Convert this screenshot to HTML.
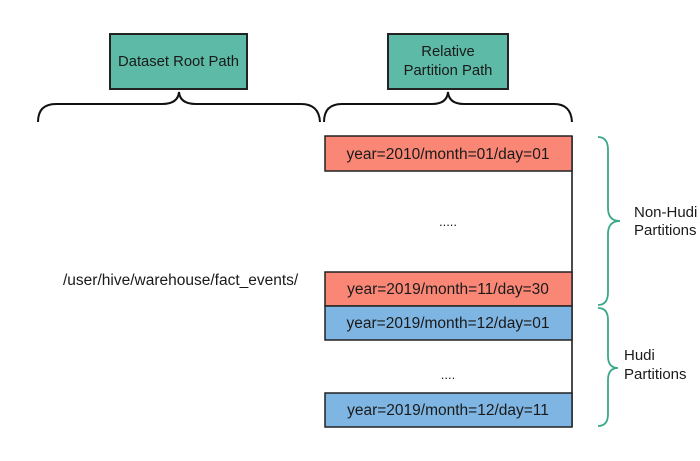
<!DOCTYPE html>
<html><head><meta charset="utf-8"><style>
html,body{margin:0;padding:0;background:#fff;width:700px;height:461px;overflow:hidden}
text{font-family:"Liberation Sans",sans-serif;fill:#1a1a1a}
</style></head><body>
<svg width="700" height="461" xmlns="http://www.w3.org/2000/svg">
<rect x="110" y="34" width="137" height="55" fill="#5cbaa6" stroke="#222" stroke-width="2"/>
<text x="178.5" y="66" font-size="14.8" text-anchor="middle">Dataset Root Path</text>
<rect x="388" y="34" width="120" height="55" fill="#5cbaa6" stroke="#222" stroke-width="2"/>
<text x="448" y="56" font-size="14.8" text-anchor="middle">Relative</text>
<text x="448" y="75" font-size="14.8" text-anchor="middle">Partition Path</text>
<path d="M38 122 Q38 104 56 104 L162 104 Q178 104 179 92 Q180 104 196 104 L301 104 Q319 104 320 122" fill="none" stroke="#111" stroke-width="2"/>
<path d="M324 122 Q324 104 342 104 L432 104 Q447 104 448 92 Q449 104 464 104 L554 104 Q571 104 572 122" fill="none" stroke="#111" stroke-width="2"/>
<line x1="572" y1="136" x2="572" y2="427" stroke="#111" stroke-width="1.5"/>
<rect x="325" y="136" width="247" height="35" fill="#fa8776" stroke="#222" stroke-width="1.5"/>
<text x="448" y="159" font-size="15.5" text-anchor="middle">year=2010/month=01/day=01</text>
<text x="448" y="226" font-size="13" text-anchor="middle">.....</text>
<rect x="325" y="272" width="247" height="34" fill="#fa8776" stroke="#222" stroke-width="1.5"/>
<text x="448" y="294" font-size="15.5" text-anchor="middle">year=2019/month=11/day=30</text>
<rect x="325" y="306" width="247" height="34" fill="#7fb5e2" stroke="#222" stroke-width="1.5"/>
<text x="448" y="328" font-size="15.5" text-anchor="middle">year=2019/month=12/day=01</text>
<text x="448" y="379" font-size="13" text-anchor="middle">....</text>
<rect x="325" y="393" width="247" height="34" fill="#7fb5e2" stroke="#222" stroke-width="1.5"/>
<text x="448" y="415" font-size="15.5" text-anchor="middle">year=2019/month=12/day=11</text>
<path d="M598 137 Q608 137 608 150 L608 208 Q608 221 620 221 Q608 221 608 234 L608 292 Q608 305 598 305" fill="none" stroke="#3aa88a" stroke-width="1.8"/>
<path d="M598 308 Q608 308 608 320 L608 356 Q608 368 618 368 Q608 368 608 380 L608 414 Q608 426 598 426" fill="none" stroke="#3aa88a" stroke-width="1.8"/>
<text x="634" y="217" font-size="15">Non-Hudi</text>
<text x="634" y="235" font-size="15">Partitions</text>
<text x="624" y="360" font-size="15">Hudi</text>
<text x="624" y="379" font-size="15">Partitions</text>
<text x="63" y="285" font-size="15.5">/user/hive/warehouse/fact_events/</text>
</svg>
</body></html>
